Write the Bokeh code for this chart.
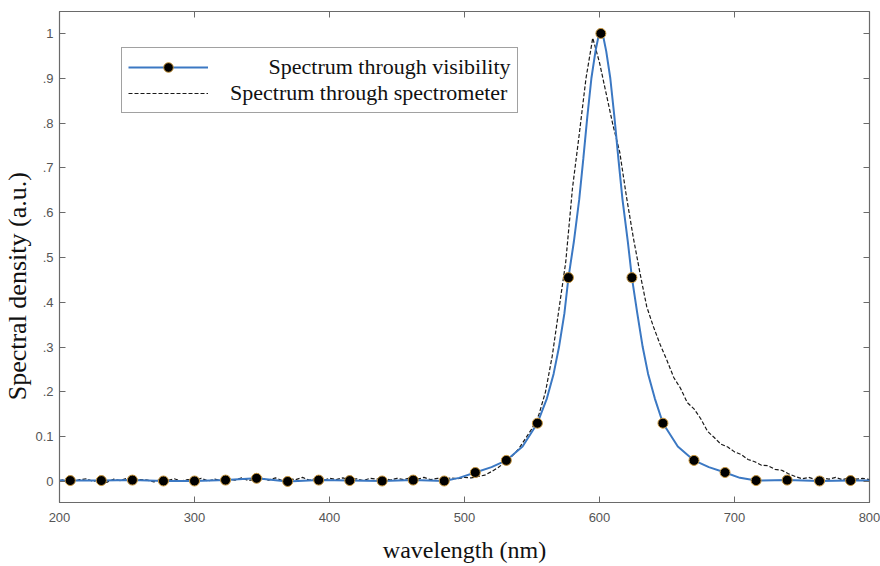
from bokeh.plotting import figure
from bokeh.models import Range1d, FixedTicker, LinearAxis, Legend, LegendItem
from bokeh.embed import file_html
from bokeh.resources import INLINE

# ---- data ----
# blue curve: spectrum recovered through visibility
vis_wl = [200, 208, 231, 254, 277, 300, 323, 346, 369, 392, 415, 439, 462, 485,
          496, 508, 520, 531, 543, 554, 561, 566, 570, 574, 577, 581, 585, 588,
          591, 594, 597, 599, 601, 603, 605, 608, 611, 614, 617, 621, 624, 628,
          632, 636, 641, 647, 658, 670, 681, 693, 704, 716, 739, 763, 786, 800]
vis_val = [0.002, 0.002, 0.002, 0.003, 0.001, 0.001, 0.003, 0.007, 0.000, 0.003,
           0.002, 0.001, 0.003, 0.001, 0.008, 0.020, 0.032, 0.047, 0.078, 0.130,
           0.185, 0.240, 0.300, 0.375, 0.455, 0.535, 0.630, 0.720, 0.815, 0.900,
           0.960, 0.990, 1.000, 0.990, 0.960, 0.900, 0.815, 0.720, 0.630, 0.535,
           0.455, 0.375, 0.300, 0.240, 0.185, 0.130, 0.078, 0.047, 0.032, 0.020,
           0.008, 0.002, 0.003, 0.001, 0.002, 0.002]

# markers on the blue curve
pts_wl = [208, 231, 254, 277, 300, 323, 346, 369, 392, 415, 439, 462, 485,
          508, 531, 554, 577, 601, 624, 647, 670, 693, 716, 739, 763, 786]
pts_val = [0.002, 0.002, 0.003, 0.001, 0.001, 0.003, 0.007, 0.000, 0.003, 0.002,
           0.001, 0.003, 0.001, 0.020, 0.047, 0.130, 0.455, 1.000, 0.455, 0.130,
           0.047, 0.020, 0.002, 0.003, 0.001, 0.002]

# dashed curve: spectrum measured through spectrometer
spec_wl = [200, 205, 210, 215, 220, 225, 230, 235, 240, 245, 250, 255, 260, 265,
           270, 275, 280, 285, 290, 295, 300, 305, 310, 315, 320, 325, 330, 335,
           340, 345, 350, 355, 360, 365, 370, 375, 380, 385, 390, 395, 400, 405,
           410, 415, 420, 425, 430, 435, 440, 445, 450, 455, 460, 465, 470, 475,
           480, 485, 490, 495, 500, 505, 510, 515, 520, 525, 530, 535, 540, 545,
           550, 555, 560, 565, 570, 575, 580, 585, 590, 595, 600, 605, 610, 615,
           620, 625, 630, 635, 640, 645, 650, 655, 660, 665, 670, 675, 680, 685,
           690, 695, 700, 705, 710, 715, 720, 725, 730, 735, 740, 745, 750, 755,
           760, 765, 770, 775, 780, 785, 790, 795, 800]
spec_val = [0.002, 0.005, -0.001, 0.004, 0.006, 0.000, 0.004, -0.002, 0.005, 0.002,
            0.007, 0.001, 0.004, 0.003, -0.001, 0.005, 0.002, 0.006, 0.001, 0.004,
            0.003, 0.007, 0.001, 0.005, 0.002, 0.006, 0.003, 0.008, 0.002, 0.005,
            0.007, 0.003, 0.008, 0.002, 0.006, 0.004, 0.009, 0.003, 0.006, 0.002,
            0.007, 0.004, 0.008, 0.003, 0.006, 0.002, 0.007, 0.005, 0.009, 0.003,
            0.007, 0.004, 0.008, 0.005, 0.009, 0.004, 0.007, 0.005, 0.008, 0.006,
            0.009, 0.008, 0.011, 0.014, 0.022, 0.031, 0.043, 0.056, 0.072, 0.095,
            0.118, 0.148, 0.200, 0.280, 0.385, 0.490, 0.655, 0.775, 0.900, 0.990,
            0.935, 0.865, 0.795, 0.735, 0.635, 0.545, 0.465, 0.390, 0.345, 0.305,
            0.270, 0.232, 0.208, 0.176, 0.162, 0.140, 0.112, 0.098, 0.083, 0.077,
            0.066, 0.060, 0.049, 0.044, 0.036, 0.035, 0.027, 0.025, 0.017, 0.011,
            0.006, 0.009, 0.004, 0.008, 0.005, 0.009, 0.004, 0.008, 0.005, 0.007,
            0.004]

x_ticks = [200, 300, 400, 500, 600, 700, 800]
y_ticks = [0, 0.1, 0.2, 0.3, 0.4, 0.5, 0.6, 0.7, 0.8, 0.9, 1]
y_tick_labels = ["0", "0.1", ".2", ".3", ".4", ".5", ".6", ".7", ".8", ".9", "1"]

NBSP = "\u00a0"

# ---- figure ----
p = figure(width=880, height=566, output_backend="svg", toolbar_location=None,
           x_range=Range1d(200, 800), y_range=Range1d(-0.047, 1.049),
           min_border_left=58, min_border_right=11, min_border_top=11,
           min_border_bottom=64)
p.xgrid.visible = False
p.ygrid.visible = False
p.outline_line_color = "#6a6a6a"
p.outline_line_width = 1.2
p.background_fill_color = "white"
p.border_fill_color = "white"

TICK_FONT = "Liberation Sans"
SERIF = "Liberation Serif"

xa = p.xaxis[0]
xa.ticker = FixedTicker(ticks=x_ticks)
ya = p.yaxis[0]
ya.ticker = FixedTicker(ticks=y_ticks)
ya.major_label_overrides = {t: s for t, s in zip(y_ticks, y_tick_labels)}

for ax in (xa, ya):
    ax.major_tick_in = 6
    ax.major_tick_out = 0
    ax.minor_tick_in = 0
    ax.minor_tick_out = 0
    ax.axis_line_color = "#6a6a6a"
    ax.major_tick_line_color = "#6a6a6a"
    ax.major_label_text_font = TICK_FONT
    ax.major_label_text_font_size = "13px"
    ax.major_label_text_color = "#555555"
    ax.axis_label_text_font = SERIF
    ax.axis_label_text_font_style = "normal"
    ax.axis_label_text_color = "#111111"

xa.axis_label = "wavelength (nm)"
xa.axis_label_text_font_size = "24px"
xa.major_label_standoff = 10
xa.axis_label_standoff = 12
# trailing no-break spaces push the rotated label a little lower, as in the reference
ya.axis_label = "Spectral density (a.u.)" + NBSP * 9
ya.axis_label_text_font_size = "26px"
ya.major_label_standoff = 6
ya.axis_label_standoff = 0

# mirrored tick marks (top and right), labels not painted
top = LinearAxis(ticker=FixedTicker(ticks=x_ticks))
right = LinearAxis(ticker=FixedTicker(ticks=y_ticks))
for ax in (top, right):
    ax.major_tick_in = 6
    ax.major_tick_out = 0
    ax.minor_tick_in = 0
    ax.minor_tick_out = 0
    ax.major_label_text_color = None
    ax.major_label_text_font_size = "1px"
    ax.major_label_standoff = 0
    ax.axis_line_color = None
    ax.major_tick_line_color = "#6a6a6a"
p.add_layout(top, "above")
p.add_layout(right, "right")

# ---- glyphs ----
r_spec = p.line(spec_wl, spec_val, line_color="#1a1a1a", line_width=1.2,
                line_dash="4 2")
r_vis = p.line(vis_wl, vis_val, line_color="#3b78c3", line_width=2)
r_pts = p.scatter(pts_wl, pts_val, marker="circle", size=10,
                  fill_color="black", line_color="#c8963c", line_width=1)

legend = Legend(items=[
    LegendItem(label=NBSP * 7 + "Spectrum through visibility", renderers=[r_vis, r_pts]),
    LegendItem(label="Spectrum through spectrometer", renderers=[r_spec]),
], location=(62, 389))
legend.label_text_font = SERIF
legend.label_text_font_size = "22px"
legend.label_text_color = "#111111"
legend.padding = 6
legend.spacing = 0
legend.glyph_width = 80
legend.glyph_height = 24
legend.label_standoff = 22
legend.border_line_color = "#444444"
legend.border_line_width = 1.5
legend.background_fill_color = "white"
legend.background_fill_alpha = 1
p.add_layout(legend)

open("out.html", "w").write(file_html(p, INLINE))
